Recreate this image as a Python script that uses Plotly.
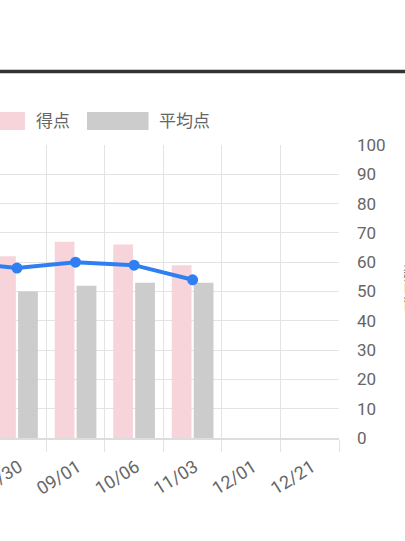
import plotly.graph_objects as go

# Data
categories = ["07/02", "07/30", "09/01", "10/06", "11/03", "12/01", "12/21"]
score = [None, 62, 67, 66, 59, None, None]          # 得点
average = [None, 50, 52, 53, 53, None, None]        # 平均点
deviation = [60, 58, 60, 59, 54, None, None]        # 偏差値

PINK = "#f7d4da"
GRAY = "#cccccc"
BLUE = "#2f7ff3"
TXT = "#666666"
FONT = "Roboto, 'Noto Sans CJK JP', sans-serif"

W, H = 405, 541
L, R, T, B = 0, 66, 145, 103
PW, PH = W - L - R, H - T - B

fig = go.Figure()
fig.add_trace(go.Bar(x=categories, y=score, name="得点", marker=dict(color=PINK, line=dict(width=0)),
                     showlegend=False, hoverinfo="skip"))
fig.add_trace(go.Bar(x=categories, y=average, name="平均点", marker=dict(color=GRAY, line=dict(width=0)),
                     showlegend=False, hoverinfo="skip"))
fig.add_trace(go.Scatter(x=categories, y=deviation, name="偏差値", mode="lines+markers",
                         line=dict(color=BLUE, width=4), marker=dict(color=BLUE, size=11),
                         showlegend=False, hoverinfo="skip", connectgaps=False))

def px_x(p):
    return (p - L) / PW

def px_y(p):
    return (H - B - p) / PH

shapes = [
    # top dark rule
    dict(type="line", xref="paper", yref="paper", x0=px_x(-20), x1=px_x(W + 20),
         y0=px_y(71.5), y1=px_y(71.5), line=dict(color="#333333", width=3.5)),
    # legend boxes
    dict(type="rect", xref="paper", yref="paper", x0=px_x(-36), x1=px_x(25),
         y0=px_y(130), y1=px_y(112), fillcolor=PINK, line=dict(width=0)),
    dict(type="rect", xref="paper", yref="paper", x0=px_x(87), x1=px_x(148.5),
         y0=px_y(130), y1=px_y(112), fillcolor=GRAY, line=dict(width=0)),
]

annotations = [
    dict(text="得点", xref="paper", yref="paper", x=px_x(34), y=px_y(121), xanchor="left",
         yanchor="middle", showarrow=False, font=dict(size=17, color=TXT, family=FONT)),
    dict(text="平均点", xref="paper", yref="paper", x=px_x(157), y=px_y(121), xanchor="left",
         yanchor="middle", showarrow=False, font=dict(size=17, color=TXT, family=FONT)),
    dict(text="偏差値", xref="paper", yref="paper", x=px_x(412), y=px_y(287), xanchor="center",
         yanchor="middle", showarrow=False, textangle=90, font=dict(size=16, color=TXT, family=FONT)),
]

fig.update_layout(
    width=W, height=H,
    margin=dict(l=L, r=R, t=T, b=B, autoexpand=False),
    paper_bgcolor="white", plot_bgcolor="white",
    barmode="group", bargap=0.25, bargroupgap=0.1,
    font=dict(family=FONT, color=TXT, size=17),
    shapes=shapes, annotations=annotations,
    xaxis=dict(type="category", range=[0.71, 6.5], tickson="boundaries",
               showgrid=True, gridcolor="#e3e3e3", gridwidth=1,
               ticks="outside", ticklen=12, tickcolor="#e3e3e3",
               showline=True, linecolor="#dddddd", linewidth=1.5,
               tickangle=-32, ticklabelstandoff=10, ticklabelshift=2,
               tickfont=dict(size=18, color=TXT), automargin=False,
               fixedrange=True),
    yaxis=dict(side="right", range=[0, 100], dtick=10, showgrid=True, gridcolor="#e3e3e3",
               zeroline=False, ticks="", ticklabelstandoff=17,
               tickfont=dict(size=17, color=TXT), automargin=False, fixedrange=True,
               showline=False),
)

fig.write_html("out.html", config={"displayModeBar": False},
               post_script="document.body.style.margin='0';document.body.style.overflow='hidden';")
